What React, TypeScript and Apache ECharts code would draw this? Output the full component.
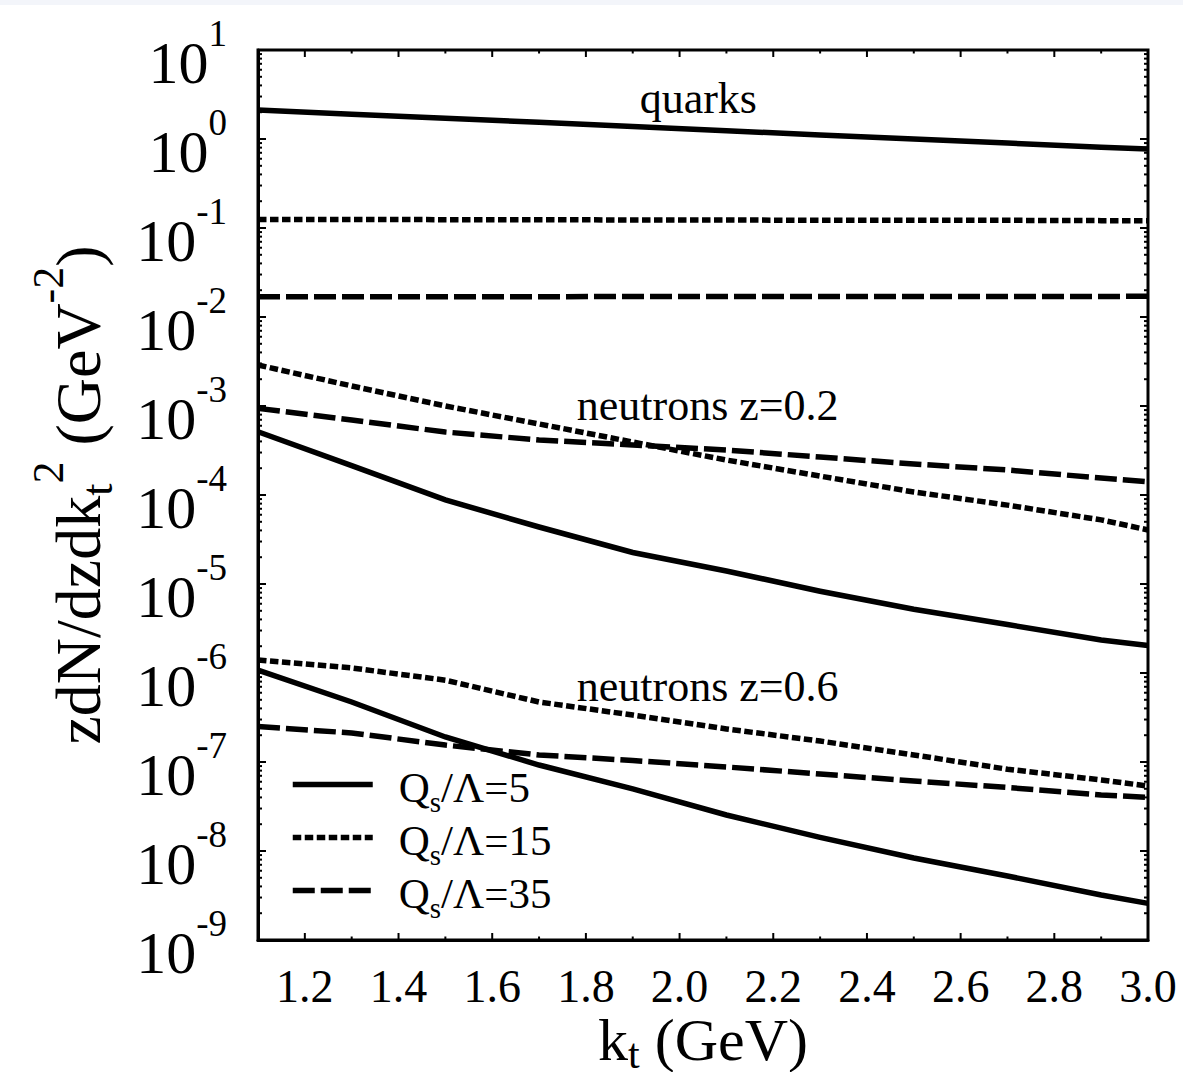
import React, { useEffect, useRef } from 'react';
import * as echarts from 'echarts';

// ---- data ----
const KT = [1.1, 1.3, 1.5, 1.7, 1.9, 2.1, 2.3, 2.5, 2.7, 2.9, 3.0];

const QUARKS_Q5 = [2.12, 1.9, 1.71, 1.54, 1.38, 1.24, 1.11, 1.0, 0.9, 0.81, 0.77];
const QUARKS_Q15 = [0.125, 0.125, 0.124, 0.124, 0.123, 0.123, 0.122, 0.122, 0.122, 0.121, 0.121];
const QUARKS_Q35 = [0.0169, 0.0169, 0.0169, 0.0169, 0.017, 0.017, 0.017, 0.017, 0.017, 0.017, 0.0171];

const N02_Q5 = [5.14e-4, 2.14e-4, 8.8e-5, 4.37e-5, 2.26e-5, 1.4e-5, 8.3e-6, 5.2e-6, 3.5e-6, 2.35e-6, 2.04e-6];
const N02_Q15 = [2.89e-3, 1.68e-3, 1.0e-3, 6.28e-4, 3.94e-4, 2.47e-4, 1.63e-4, 1.08e-4, 7.7e-5, 5.25e-5, 4.05e-5];
const N02_Q35 = [9.4e-4, 6.96e-4, 5.1e-4, 4.15e-4, 3.65e-4, 3.2e-4, 2.67e-4, 2.23e-4, 1.91e-4, 1.55e-4, 1.41e-4];

const N06_Q5 = [1.08e-6, 4.72e-7, 1.91e-7, 9.25e-8, 4.98e-8, 2.54e-8, 1.42e-8, 8.34e-9, 5.24e-9, 3.2e-9, 2.58e-9];
const N06_Q15 = [1.4e-6, 1.14e-6, 8.3e-7, 4.72e-7, 3.37e-7, 2.35e-7, 1.72e-7, 1.2e-7, 8.3e-8, 6.28e-8, 5.37e-8];
const N06_Q35 = [2.5e-7, 2.12e-7, 1.55e-7, 1.2e-7, 1.04e-7, 8.8e-8, 7.33e-8, 6.12e-8, 5.17e-8, 4.26e-8, 4.0e-8];

const SERIES_NAMES = ['Qs/Λ=5', 'Qs/Λ=15', 'Qs/Λ=35'];

const X_MIN = 1.1;
const X_MAX = 3.0;
const Y_MIN = 1e-9;
const Y_MAX = 10;
const X_TICKS = [1.2, 1.4, 1.6, 1.8, 2.0, 2.2, 2.4, 2.6, 2.8, 3.0];
const X_MINOR_TICKS = [1.3, 1.5, 1.7, 1.9, 2.1, 2.3, 2.5, 2.7, 2.9];
const Y_EXPONENTS = [-9, -8, -7, -6, -5, -4, -3, -2, -1, 0, 1];
const Y_MINOR_MULTIPLIERS = [2, 3, 4, 5, 6, 7, 8, 9];

const ANNOT_TEXT = ['quarks', 'neutrons z=0.2', 'neutrons z=0.6'];
const ANNOT_KT = [2.04, 2.06, 2.06];
const ANNOT_Y = [2.87, 1.01e-3, 7.05e-7];

// ---- styles ----
const FONT = '"Liberation Serif", "Times New Roman", Times, serif';
const BLACK = '#000';
const LINE_W = 5.5;
const DASH_TYPES: any[] = ['solid', [8.5, 3.5], [22, 6]];
const X_MAJOR_LEN = 7;
const X_MINOR_LEN = 3.5;
const Y_MAJOR_LEN = 8;
const Y_MINOR_LEN = 4;
const LEGEND_TOPS = [766, 819, 872];

const Y_MAJOR = Y_EXPONENTS.map((e) => Math.pow(10, e));
const Y_MINOR: number[] = [];
Y_EXPONENTS.slice(0, -1).forEach((e) => {
  Y_MINOR_MULTIPLIERS.forEach((m) => Y_MINOR.push(m * Math.pow(10, e)));
});

function pairs(vals: number[]) {
  return KT.map((k, i) => [k, vals[i]]);
}

function lineSeries(name: string, vals: number[], dash: any) {
  return {
    type: 'line',
    name,
    data: pairs(vals),
    symbol: 'none',
    showSymbol: false,
    silent: true,
    lineStyle: { color: BLACK, width: LINE_W, type: dash, cap: 'butt', join: 'miter' },
    itemStyle: { color: BLACK, opacity: 0 },
    emphasis: { disabled: true },
    z: 3,
  };
}

// tick marks drawn through the axes' own scales (inside, on all four sides)
function tickSeries() {
  const data: any[] = [];
  X_TICKS.forEach((v) => data.push([v, Y_MIN, X_MAJOR_LEN, 0]));
  X_MINOR_TICKS.forEach((v) => data.push([v, Y_MIN, X_MINOR_LEN, 0]));
  Y_MAJOR.forEach((v) => data.push([X_MIN, v, Y_MAJOR_LEN, 1]));
  Y_MINOR.forEach((v) => data.push([X_MIN, v, Y_MINOR_LEN, 1]));
  return {
    type: 'custom',
    name: 'ticks',
    data,
    silent: true,
    clip: false,
    z: 4,
    encode: { x: 0, y: 1 },
    renderItem: (params: any, api: any) => {
      const len = api.value(2);
      const kind = api.value(3);
      const style = { stroke: BLACK, lineWidth: 2 };
      if (kind === 0) {
        const v = api.value(0);
        const b = api.coord([v, Y_MIN]);
        const t = api.coord([v, Y_MAX]);
        return {
          type: 'group',
          children: [
            { type: 'line', shape: { x1: b[0], y1: b[1], x2: b[0], y2: b[1] - len }, style },
            { type: 'line', shape: { x1: t[0], y1: t[1], x2: t[0], y2: t[1] + len }, style },
          ],
        };
      }
      const v = api.value(1);
      const l = api.coord([X_MIN, v]);
      const r = api.coord([X_MAX, v]);
      return {
        type: 'group',
        children: [
          { type: 'line', shape: { x1: l[0], y1: l[1], x2: l[0] + len, y2: l[1] }, style },
          { type: 'line', shape: { x1: r[0], y1: r[1], x2: r[0] - len, y2: r[1] }, style },
        ],
      };
    },
  };
}

function legendFor(name: string, top: number) {
  return {
    data: [name],
    orient: 'vertical',
    left: 290,
    top,
    padding: 0,
    itemWidth: 80,
    itemHeight: 20,
    selectedMode: false,
    itemStyle: { opacity: 0 },
    lineStyle: { width: LINE_W },
    formatter: (n: string) => `{q0|Q}{s|s}{q|${n.slice(2)}}`,
    textStyle: {
      fontFamily: FONT,
      fontSize: 43,
      color: BLACK,
      rich: {
        q0: { fontFamily: FONT, fontSize: 43, color: BLACK, verticalAlign: 'middle', padding: [6, 0, 0, 21] },
        q: { fontFamily: FONT, fontSize: 43, color: BLACK, verticalAlign: 'middle', padding: [6, 0, 0, 0] },
        s: { fontFamily: FONT, fontSize: 29, color: BLACK, verticalAlign: 'middle', padding: [35, 0, 0, 0] },
      },
    },
  };
}

function buildOption() {
  const groups = [
    [QUARKS_Q5, QUARKS_Q15, QUARKS_Q35],
    [N02_Q5, N02_Q15, N02_Q35],
    [N06_Q5, N06_Q15, N06_Q35],
  ];
  const series: any[] = [];
  groups.forEach((g) => {
    g.forEach((vals, i) => series.push(lineSeries(SERIES_NAMES[i], vals, DASH_TYPES[i])));
  });
  series.push(tickSeries());
  series.push({
    type: 'scatter',
    name: 'annotations',
    data: ANNOT_KT.map((k, i) => [k, ANNOT_Y[i], ANNOT_TEXT[i]]),
    symbolSize: 0,
    silent: true,
    emphasis: { disabled: true },
    itemStyle: { color: BLACK, opacity: 1 },
    label: {
      show: true,
      position: 'inside',
      formatter: (p: any) => p.data[2],
      fontFamily: FONT,
      fontSize: 44,
      color: BLACK,
      opacity: 1,
      textBorderWidth: 0,
      textBorderColor: 'transparent',
    },
    z: 5,
  });

  return {
    animation: false,
    backgroundColor: '#fff',
    grid: {
      left: 258,
      top: 50,
      width: 890,
      height: 890,
      containLabel: false,
      outerBoundsMode: 'none',
      show: true,
      borderColor: BLACK,
      borderWidth: 3,
      backgroundColor: 'transparent',
    },
    legend: SERIES_NAMES.map((n, i) => legendFor(n, LEGEND_TOPS[i])),
    xAxis: {
      type: 'value',
      min: X_MIN,
      max: X_MAX,
      position: 'bottom',
      splitLine: { show: false },
      minorTick: { show: false },
      axisLine: { show: true, onZero: false, lineStyle: { color: BLACK, width: 3 } },
      axisTick: { show: false },
      axisLabel: {
        show: true,
        customValues: X_TICKS,
        formatter: (v: number) => v.toFixed(1),
        fontFamily: FONT,
        fontSize: 46,
        color: BLACK,
        margin: 23,
      },
      name: '{m|k}{t|t}{m| (GeV)}',
      nameLocation: 'middle',
      nameGap: 64,
      nameMoveOverlap: false,
      nameTextStyle: {
        fontFamily: FONT,
        fontSize: 60,
        color: BLACK,
        rich: {
          m: { fontFamily: FONT, fontSize: 60, color: BLACK, verticalAlign: 'middle' },
          t: { fontFamily: FONT, fontSize: 42, color: BLACK, verticalAlign: 'middle', padding: [29, 0, 0, 0] },
        },
      },
    },
    yAxis: {
      type: 'log',
      logBase: 10,
      min: Y_MIN,
      max: Y_MAX,
      position: 'left',
      splitLine: { show: false },
      minorTick: { show: false },
      axisLine: { show: true, onZero: false, lineStyle: { color: BLACK, width: 3 } },
      axisTick: { show: false },
      axisLabel: {
        show: true,
        customValues: Y_MAJOR,
        margin: 31,
        fontFamily: FONT,
        fontSize: 60,
        color: BLACK,
        formatter: (v: number) => `{b|10}{s|${Math.round(Math.log10(v))}}`,
        rich: {
          b: { fontFamily: FONT, fontSize: 60, color: BLACK, verticalAlign: 'middle', padding: [25, 0, 0, 0] },
          s: { fontFamily: FONT, fontSize: 37, color: BLACK, verticalAlign: 'middle', padding: [0, 0, 33, 0] },
        },
      },
      name: '{m|zdN/dzdk}{t|t}{p|2}{m| (GeV}{p|-2}{m|)}',
      nameLocation: 'middle',
      nameRotate: 90,
      nameGap: 128,
      nameTextStyle: {
        fontFamily: FONT,
        fontSize: 64,
        color: BLACK,
        rich: {
          m: { fontFamily: FONT, fontSize: 64, color: BLACK, verticalAlign: 'middle' },
          t: { fontFamily: FONT, fontSize: 44, color: BLACK, verticalAlign: 'middle', padding: [38, 0, 0, 0] },
          p: { fontFamily: FONT, fontSize: 44, color: BLACK, verticalAlign: 'middle', padding: [0, 0, 60, 0] },
        },
      },
    },
    series,
  };
}

export default function App() {
  const ref = useRef<HTMLDivElement>(null);
  useEffect(() => {
    if (!ref.current) return;
    const chart = echarts.init(ref.current, null, { renderer: 'svg' });
    chart.setOption(buildOption() as any);
    return () => chart.dispose();
  }, []);
  return (
    <div style={{ position: 'absolute', left: 0, top: 0, width: 1183, height: 1072, background: '#fff' }}>
      <div ref={ref} style={{ width: 1183, height: 1072 }} />
      <div style={{ position: 'absolute', left: 0, top: 0, width: 1183, height: 5, background: '#f3f5fa' }} />
    </div>
  );
}
